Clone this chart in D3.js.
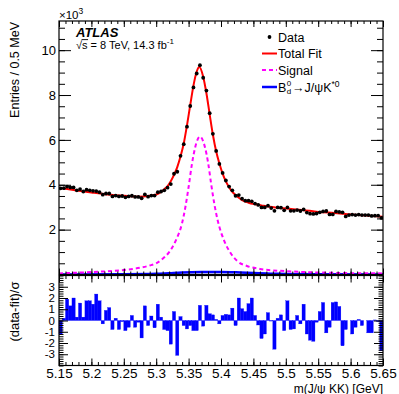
<!DOCTYPE html>
<html>
<head>
<meta charset="utf-8">
<script src="https://cdn.jsdelivr.net/npm/d3@7"></script>
<style>
body { margin: 0; background: #fff; }
svg { display: block; font-family: "Liberation Sans", Arial, Helvetica, sans-serif; }
</style>
</head>
<body>
<svg id="chart" width="399" height="394"></svg>
<script>
// histogram: 100 bins of 5 MeV from 5.15 to 5.65 GeV
var histLow = 5.15;
var histHigh = 5.65;
var binWidth = 0.005;

// entries per bin, in units of 10^3
var dataCounts = [
    3.84, 3.85, 3.92, 3.88, 3.88, 3.75, 3.81, 3.70, 3.78, 3.75,
    3.73, 3.72, 3.67, 3.56, 3.61, 3.61, 3.48, 3.52, 3.48, 3.50,
    3.44, 3.48, 3.51, 3.46, 3.46, 3.40, 3.57, 3.47, 3.52, 3.52,
    3.67, 3.70, 3.75, 3.87, 4.03, 4.49, 4.58, 5.29, 5.81, 6.59,
    7.51, 8.34, 8.96, 9.33, 8.77, 8.20, 7.19, 6.27, 5.51, 4.93,
    4.53, 4.19, 3.92, 3.75, 3.51, 3.54, 3.38, 3.29, 3.29, 3.26,
    3.16, 3.10, 2.99, 2.99, 3.07, 2.96, 2.84, 2.99, 2.98, 2.86,
    2.99, 2.84, 2.84, 2.87, 2.83, 2.90, 2.76, 2.71, 2.70, 2.72,
    2.77, 2.81, 2.83, 2.68, 2.68, 2.81, 2.79, 2.77, 2.59, 2.65,
    2.67, 2.65, 2.67, 2.65, 2.65, 2.65, 2.61, 2.62, 2.62, 2.52
];

// (data-fit)/sigma per bin
var pulls = [
    -1.2, 0.2, 1.9, 1.3, 2.0, 0.3, 1.55, 0.3, 1.75, 1.75,
    1.45, 2.35, 1.75, -0.3, 0.9, 1.15, -0.8, 0.2, -0.8, -0.1,
    -0.9, -0.6, 0.45, -0.6, -0.15, -1.55, 1.3, -0.45, 0.4, -0.65,
    1.45, 0.3, -0.8, -0.9, -2.1, 0.8, -3.1, 0.35, -0.45, -0.75,
    -0.45, -0.9, -0.9, 1.35, -0.5, 1.35, 0.6, 0.5, 0.1, -0.3,
    0.45, 0.55, 0.5, 1.1, -0.45, 2.0, 1.05, 0.8, 1.5, 2.0,
    0.45, -0.4, -1.6, -1.2, 0.7, -0.05, -2.55, 0.2, 0.5, -0.9,
    1.75, -0.8, -0.75, 0.45, -0.3, 1.45, -1.2, -1.75, -1.85, -0.15,
    0.8, 1.6, -1.1, -0.6, 1.6, 1.65, 1.25, -2.25, -0.8, 0.0,
    -1.2, -0.6, 0.1, -0.45, 0.0, -1.1, -1.1, 0.05, -0.1, -2.7
];

// total fit curve
var fitMass = [5.15, 5.175, 5.2, 5.225, 5.25, 5.2725, 5.2875, 5.2975, 5.3025, 5.3075,
    5.3125, 5.3175, 5.3225, 5.3275, 5.3325, 5.3375, 5.3425, 5.3475, 5.3525, 5.3575,
    5.3625, 5.3665, 5.3725, 5.3775, 5.3825, 5.3875, 5.3925, 5.3975, 5.4025, 5.4075,
    5.4125, 5.4175, 5.4225, 5.4275, 5.4325, 5.4425, 5.4525, 5.4625, 5.475, 5.5,
    5.525, 5.55, 5.575, 5.6, 5.625, 5.65];
var fitValues = [3.87, 3.76, 3.66, 3.57, 3.51, 3.47, 3.50, 3.55, 3.59, 3.68,
    3.80, 3.94, 4.16, 4.44, 4.79, 5.26, 5.84, 6.65, 7.55, 8.42,
    9.05, 9.25, 8.82, 8.08, 7.14, 6.23, 5.49, 4.95, 4.50, 4.15,
    3.89, 3.68, 3.54, 3.42, 3.32, 3.20, 3.13, 3.08, 3.02, 2.94,
    2.88, 2.79, 2.74, 2.68, 2.63, 2.57];

// signal component
var sigMass = [5.15, 5.2, 5.25, 5.275, 5.29, 5.3, 5.31, 5.32, 5.33, 5.34,
    5.345, 5.35, 5.355, 5.36, 5.3675, 5.375, 5.38, 5.385, 5.39, 5.395,
    5.405, 5.415, 5.425, 5.44, 5.46, 5.5, 5.55, 5.6, 5.65];
var sigValues = [0.05, 0.11, 0.2, 0.3, 0.4, 0.5, 0.7, 1.0, 1.5, 2.3,
    3.0, 3.9, 4.9, 5.65, 6.15, 5.7, 5.0, 4.0, 3.1, 2.4,
    1.5, 0.95, 0.6, 0.38, 0.25, 0.15, 0.09, 0.06, 0.05];

// B_d -> J/psi K*0 reflection
var bdMass = [5.15, 5.25, 5.3, 5.32, 5.34, 5.37, 5.4, 5.43, 5.46, 5.49, 5.55, 5.65];
var bdValues = [0.0, 0.01, 0.03, 0.06, 0.09, 0.11, 0.11, 0.09, 0.06, 0.03, 0.01, 0.0];

var xTicks = [5.15, 5.2, 5.25, 5.3, 5.35, 5.4, 5.45, 5.5, 5.55, 5.6, 5.65];
var xTickLabels = ['5.15', '5.2', '5.25', '5.3', '5.35', '5.4', '5.45', '5.5', '5.55', '5.6', '5.65'];
var yTicks = [2, 4, 6, 8, 10];
var pullTicks = [-3, -2, -1, 0, 1, 2, 3];

var legendLabels = ['Data', 'Total Fit', 'Signal'];

var svg = d3.select('#chart');
var left = 59, right = 383;
var mainTop = 21, mainBottom = 274.5;
var lowTop = 275.5, lowBottom = 365.5;

var x = d3.scaleLinear().domain([histLow, histHigh]).range([left, right]);
var y = d3.scaleLinear().domain([0, 11.3]).range([mainBottom, mainTop]);
var yPull = d3.scaleLinear().domain([-4, 4]).range([lowBottom, lowTop]);

var xMinor = d3.range(0, 51).map(function(i) { return histLow + i * 0.01; });
var yMinor = d3.range(0, 23).map(function(i) { return i * 0.5; });
var pullMinor = d3.range(0, 41).map(function(i) { return -4 + i * 0.2; });

svg.append('defs').append('clipPath').attr('id', 'clipMain')
    .append('rect')
    .attr('x', left).attr('y', mainTop)
    .attr('width', right - left).attr('height', mainBottom - mainTop);

function tickAxis(axis, tx, ty) {
    var g = svg.append('g')
        .attr('transform', 'translate(' + tx + ',' + ty + ')')
        .call(axis);
    g.select('.domain').remove();
    g.selectAll('line').attr('stroke', '#000').attr('stroke-width', 1);
    return g;
}

// ---- main panel ----
var curves = svg.append('g').attr('clip-path', 'url(#clipMain)');

var line = d3.line()
    .x(function(d) { return x(d[0]); })
    .y(function(d) { return y(d[1]); })
    .curve(d3.curveMonotoneX);

curves.append('path')
    .datum(d3.zip(bdMass, bdValues))
    .attr('d', line)
    .attr('fill', 'none')
    .attr('stroke', '#0000ff')
    .attr('stroke-width', 2.5);

curves.append('path')
    .datum(d3.zip(sigMass, sigValues))
    .attr('d', line)
    .attr('fill', 'none')
    .attr('stroke', '#ff00ff')
    .attr('stroke-width', 2)
    .attr('stroke-dasharray', '4,3');

curves.append('path')
    .datum(d3.zip(fitMass, fitValues))
    .attr('d', line)
    .attr('fill', 'none')
    .attr('stroke', '#ff0000')
    .attr('stroke-width', 2);

curves.selectAll('circle')
    .data(dataCounts)
    .enter().append('circle')
    .attr('cx', function(d, i) { return x(histLow + (i + 0.5) * binWidth); })
    .attr('cy', function(d) { return y(d); })
    .attr('r', 1.9)
    .attr('fill', '#000');

// main axes (ticks inside, ROOT style)
var yAxis = tickAxis(d3.axisLeft(y).tickValues(yTicks).tickSize(-12).tickPadding(3).tickFormat(d3.format('d')), left, 0);
yAxis.selectAll('text').attr('font-size', 13).attr('font-family', null).attr('fill', '#000');
tickAxis(d3.axisLeft(y).tickValues(yMinor).tickSize(-6).tickFormat(''), left, 0);
tickAxis(d3.axisRight(y).tickValues(yTicks).tickSize(-12).tickFormat(''), right, 0);
tickAxis(d3.axisRight(y).tickValues(yMinor).tickSize(-6).tickFormat(''), right, 0);
tickAxis(d3.axisBottom(x).tickValues(xTicks).tickSize(-6).tickFormat(''), 0, mainBottom);
tickAxis(d3.axisBottom(x).tickValues(xMinor).tickSize(-3).tickFormat(''), 0, mainBottom);
tickAxis(d3.axisTop(x).tickValues(xTicks).tickSize(-6).tickFormat(''), 0, mainTop);
tickAxis(d3.axisTop(x).tickValues(xMinor).tickSize(-3).tickFormat(''), 0, mainTop);

svg.append('rect')
    .attr('x', left).attr('y', mainTop)
    .attr('width', right - left).attr('height', mainBottom - mainTop)
    .attr('fill', 'none').attr('stroke', '#000').attr('stroke-width', 1.2);

// ---- pull panel ----
svg.append('g').selectAll('rect')
    .data(pulls)
    .enter().append('rect')
    .attr('x', function(d, i) { return x(histLow + i * binWidth); })
    .attr('width', x(histLow + binWidth) - x(histLow))
    .attr('y', function(d) { return yPull(Math.max(0, d)); })
    .attr('height', function(d) { return Math.abs(yPull(d) - yPull(0)); })
    .attr('fill', '#0000ff')
    .attr('stroke', '#0000ff')
    .attr('stroke-width', 0.3);

var pAxis = tickAxis(d3.axisLeft(yPull).tickValues(pullTicks).tickSize(-9).tickPadding(4).tickFormat(function(d) { return String(d); }), left, 0);
pAxis.selectAll('text').attr('font-size', 11.5).attr('font-family', null).attr('fill', '#000');
tickAxis(d3.axisLeft(yPull).tickValues(pullMinor).tickSize(-4.5).tickFormat(''), left, 0);
tickAxis(d3.axisRight(yPull).tickValues(pullTicks).tickSize(-9).tickFormat(''), right, 0);
tickAxis(d3.axisRight(yPull).tickValues(pullMinor).tickSize(-4.5).tickFormat(''), right, 0);

var xAxis = tickAxis(d3.axisBottom(x).tickValues(xTicks).tickSize(-7).tickPadding(3)
    .tickFormat(function(d, i) { return xTickLabels[i]; }), 0, lowBottom);
xAxis.selectAll('text').attr('font-size', 13.5).attr('font-family', null).attr('fill', '#000');
tickAxis(d3.axisBottom(x).tickValues(xMinor).tickSize(-3.5).tickFormat(''), 0, lowBottom);
tickAxis(d3.axisTop(x).tickValues(xTicks).tickSize(-7).tickFormat(''), 0, lowTop);
tickAxis(d3.axisTop(x).tickValues(xMinor).tickSize(-3.5).tickFormat(''), 0, lowTop);

svg.append('rect')
    .attr('x', left).attr('y', lowTop)
    .attr('width', right - left).attr('height', lowBottom - lowTop)
    .attr('fill', 'none').attr('stroke', '#000').attr('stroke-width', 1.2);

// ---- titles ----
svg.append('text')
    .attr('transform', 'translate(18.5,' + (mainTop + 1) + ') rotate(-90)')
    .attr('text-anchor', 'end')
    .attr('font-size', 12.5)
    .text('Entries / 0.5 MeV');

svg.append('text')
    .attr('transform', 'translate(18.5,' + (lowTop + 6) + ') rotate(-90)')
    .attr('text-anchor', 'end')
    .attr('font-size', 13)
    .text('(data-fit)/σ');

svg.append('text')
    .attr('x', right).attr('y', 392.5)
    .attr('text-anchor', 'end')
    .attr('font-size', 12)
    .text('m(J/ψ KK) [GeV]');

var mult = svg.append('text').attr('x', left).attr('y', 19).attr('font-size', 11.5);
mult.append('tspan').text('×10');
mult.append('tspan').attr('font-size', 8.5).attr('dy', -5).text('3');

svg.append('text')
    .attr('x', 76).attr('y', 37)
    .attr('font-size', 13)
    .attr('font-weight', 'bold')
    .attr('font-style', 'italic')
    .text('ATLAS');

// sqrt(s) line with an overline over the s
var sq = svg.append('text').attr('x', 76).attr('y', 48.5).attr('font-size', 11);
sq.append('tspan').text('√');
sq.append('tspan').text('s');
sq.append('tspan').text(' = 8 TeV, 14.3 fb');
sq.append('tspan').attr('font-size', 8).attr('dy', -4.5).text('-1');
var sStart = 76 + sq.node().getSubStringLength(0, 1);
var sWidth = sq.node().getSubStringLength(1, 1);
svg.append('line')
    .attr('x1', sStart - 0.5).attr('x2', sStart + sWidth + 0.5)
    .attr('y1', 39.6).attr('y2', 39.6)
    .attr('stroke', '#000').attr('stroke-width', 0.9);

// ---- legend ----
var legX = 262, legText = 278;
var legY = [37, 53.5, 70, 87];

svg.append('circle').attr('cx', 269.5).attr('cy', legY[0]).attr('r', 1.9).attr('fill', '#000');
svg.append('line').attr('x1', legX).attr('x2', legX + 15).attr('y1', legY[1]).attr('y2', legY[1])
    .attr('stroke', '#ff0000').attr('stroke-width', 2);
svg.append('line').attr('x1', legX).attr('x2', legX + 15).attr('y1', legY[2]).attr('y2', legY[2])
    .attr('stroke', '#ff00ff').attr('stroke-width', 2).attr('stroke-dasharray', '4,3');
svg.append('line').attr('x1', legX).attr('x2', legX + 15).attr('y1', legY[3]).attr('y2', legY[3])
    .attr('stroke', '#0000ff').attr('stroke-width', 2.5);

legendLabels.forEach(function(label, i) {
    svg.append('text')
        .attr('x', legText).attr('y', legY[i] + 4.5)
        .attr('font-size', 12.5)
        .text(label);
});

// B_d^0 -> J/psi K^*0: B, then 0 over d, then the rest
var bBase = legY[3] + 4.5;
var bText = svg.append('text').attr('x', legText).attr('y', bBase).attr('font-size', 12.5).text('B');
var bW = bText.node().getComputedTextLength();
var scripts = svg.append('text').attr('x', legText + bW + 0.3).attr('y', bBase - 6).attr('font-size', 8);
scripts.append('tspan').text('0');
scripts.append('tspan').attr('x', legText + bW + 0.3).attr('dy', 8.6).text('d');
var scriptW = 8 * 0.56;
var rest = svg.append('text').attr('x', legText + bW + scriptW + 1.2).attr('y', bBase).attr('font-size', 12.5);
rest.append('tspan').text('→J/ψK');
rest.append('tspan').attr('font-size', 8.5).attr('dy', -5).text('*0');
</script>
</body>
</html>
